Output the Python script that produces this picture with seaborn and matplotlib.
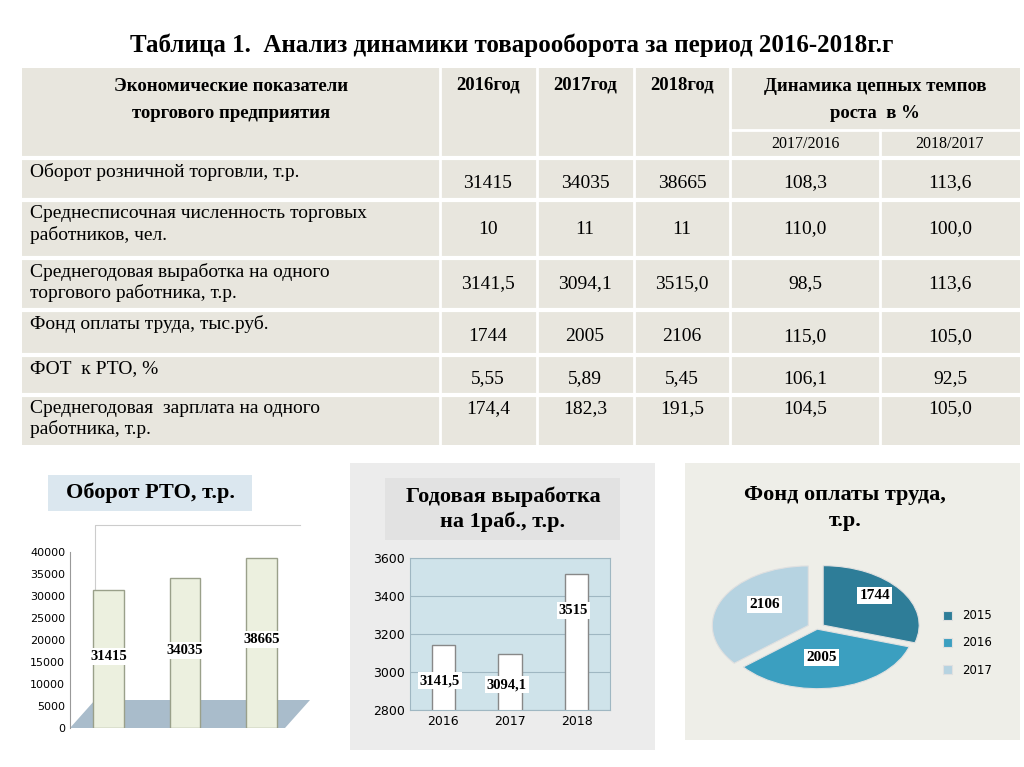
import matplotlib
matplotlib.use("Agg")
import matplotlib.pyplot as plt
import seaborn as sns
import pandas as pd
from matplotlib.patches import Rectangle, Polygon

# ---- data ----
title = "Таблица 1.  Анализ динамики товарооборота за период 2016-2018г.г"
row_labels = ["Оборот розничной торговли, т.р.",
              "Среднесписочная численность торговых\nработников, чел.",
              "Среднегодовая выработка на одного\nторгового работника, т.р.",
              "Фонд оплаты труда, тыс.руб.",
              "ФОТ  к РТО, %",
              "Среднегодовая  зарплата на одного\nработника, т.р."]
col_2016 = ["31415", "10", "3141,5", "1744", "5,55", "174,4"]
col_2017 = ["34035", "11", "3094,1", "2005", "5,89", "182,3"]
col_2018 = ["38665", "11", "3515,0", "2106", "5,45", "191,5"]
col_d1 = ["108,3", "110,0", "98,5", "115,0", "106,1", "104,5"]
col_d2 = ["113,6", "100,0", "113,6", "105,0", "92,5", "105,0"]

rto_years = ["2016", "2017", "2018"]
rto_values = [31415, 34035, 38665]
vyr_years = ["2016", "2017", "2018"]
vyr_values = [3141.5, 3094.1, 3515]
vyr_labels = ["3141,5", "3094,1", "3515"]
fot_years = ["2015", "2016", "2017"]
fot_values = [1744, 2005, 2106]

SERIF = "Liberation Serif"
W, H = 1024, 767
fig = plt.figure(figsize=(W / 100, H / 100), dpi=100)
fig.patch.set_facecolor("white")

def ax_px(x, y, w, h, **kw):
    return fig.add_axes([x / W, 1 - (y + h) / H, w / W, h / H], **kw)

ov = ax_px(0, 0, W, H)
ov.set_xlim(0, W); ov.set_ylim(H, 0); ov.axis("off")

ov.text(512, 45, title, ha="center", va="center", fontsize=18, fontweight="bold", family=SERIF)

# ---- table ----
bg = "#e8e6de"
xs = [22, 440, 537, 634, 730, 880, 1020]
ys = [68, 158, 200, 258, 310, 355, 395, 445]
ov.add_patch(Rectangle((22, 68), 998, 377, facecolor=bg, edgecolor="none"))
for x in xs[1:5]:
    ov.plot([x, x], [68, 445], color="white", lw=2)
ov.plot([880, 880], [130, 445], color="white", lw=2)
ov.plot([730, 1020], [130, 130], color="white", lw=2)
for y in ys[1:-1]:
    ov.plot([22, 1020], [y, y], color="white", lw=3)
hk = dict(fontsize=13.5, fontweight="bold", family=SERIF, ha="center", va="center")
ov.text(231, 100, "Экономические показатели\nторгового предприятия", linespacing=1.7, **hk)
for x, t in zip([488, 585, 682], ["2016год", "2017год", "2018год"]):
    ov.text(x, 85, t, **hk)
ov.text(875, 100, "Динамика цепных темпов\nроста  в %", linespacing=1.7, **hk)
ov.text(805, 144, "2017/2016", fontsize=11.5, family=SERIF, ha="center", va="center")
ov.text(950, 144, "2018/2017", fontsize=11.5, family=SERIF, ha="center", va="center")
for i in range(6):
    y0, y1 = ys[i + 1], ys[i + 2]
    ov.text(30, y0 + 5, row_labels[i], fontsize=14, family=SERIF, ha="left", va="top", linespacing=1.25)
    yc = (y0 + y1) / 2 + (4 if i in (0, 3, 4) else 0)
    if i == 5:
        yc = y0 + 14
    for x, col in zip([488, 585, 682, 805, 950], [col_2016, col_2017, col_2018, col_d1, col_d2]):
        ov.text(x, yc, col[i], fontsize=14, family=SERIF, ha="center", va="center")

# ---- left chart: Оборот РТО ----
ov.add_patch(Rectangle((48, 475), 204, 36, facecolor="#dbe7ef", edgecolor="none"))
ov.text(150, 493, "Оборот РТО, т.р.", fontsize=16, fontweight="bold", family=SERIF, ha="center", va="center")
ov.add_patch(Polygon([[70, 728], [285, 728], [310, 700], [95, 700]], closed=True,
                     facecolor="#a9bccb", edgecolor="none"))
ov.plot([95, 95, 300], [700, 525, 525], color="#cccccc", lw=0.8)
ax1 = ax_px(70, 552, 230, 176)
df1 = pd.DataFrame({"year": rto_years, "value": rto_values})
sns.barplot(data=df1, x="year", y="value", ax=ax1, color="#eef3dc", edgecolor="#9aa08a", width=0.4)
ax1.set_ylim(0, 40000)
ax1.set_yticks(range(0, 40001, 5000))
ax1.tick_params(axis="y", labelsize=8, length=0)
ax1.set_xticks([]); ax1.set_xlabel(""); ax1.set_ylabel("")
ax1.patch.set_alpha(0)
for s in ["top", "right", "bottom"]:
    ax1.spines[s].set_visible(False)
ax1.spines["left"].set_color("#999999")
for i, v in enumerate(rto_values):
    ax1.text(i, v * 0.52, str(v), ha="center", va="center", fontsize=10.5, fontweight="bold",
             family=SERIF, bbox=dict(facecolor="white", edgecolor="none", pad=1.5))

# ---- middle chart ----
ov.add_patch(Rectangle((350, 463), 305, 287, facecolor="#ececec", edgecolor="none"))
ov.add_patch(Rectangle((385, 478), 235, 62, facecolor="#e2e2e2", edgecolor="none"))
ov.text(503, 509, "Годовая выработка\nна 1раб., т.р.", fontsize=16, fontweight="bold",
        family=SERIF, ha="center", va="center", linespacing=1.3)
ax2 = ax_px(410, 558, 200, 152)
ax2.set_facecolor("#cfe3ea")
df2 = pd.DataFrame({"year": vyr_years, "value": vyr_values})
sns.barplot(data=df2, x="year", y="value", ax=ax2, color="white", edgecolor="#888888", width=0.35)
ax2.set_ylim(2800, 3600)
ax2.set_yticks(range(2800, 3601, 200))
ax2.yaxis.grid(True, color="#9fb7c2", lw=0.8)
ax2.set_axisbelow(True)
ax2.tick_params(labelsize=9, length=0)
ax2.set_xlabel(""); ax2.set_ylabel("")
for s in ax2.spines.values():
    s.set_color("#9fb7c2")
for i, (v, t) in enumerate(zip(vyr_values, vyr_labels)):
    ax2.text(i - 0.05, 2800 + (v - 2800) * 0.45 + (200 if i == 2 else 0), t, ha="center", va="center",
             fontsize=10.5, fontweight="bold", family=SERIF,
             bbox=dict(facecolor="white", edgecolor="none", pad=1.5))

# ---- right chart ----
ov.add_patch(Rectangle((685, 463), 335, 277, facecolor="#eeeee8", edgecolor="none"))
ov.text(845, 508, "Фонд оплаты труда,\nт.р.", fontsize=16, fontweight="bold",
        family=SERIF, ha="center", va="center", linespacing=1.4)
ax3 = ax_px(697, 548, 240, 160)
colors = ["#2e7d98", "#3b9fc0", "#b6d3e1"]
wedges, _ = ax3.pie(fot_values, colors=colors, startangle=90, counterclock=False,
                    explode=[0.08, 0.02, 0.1], wedgeprops=dict(edgecolor="#e0e0e0", lw=0.8))
ax3.set_aspect(0.62)
for w_, v, (dx, dy) in zip(wedges, fot_values, [(0.6, 0.55), (0.05, -0.5), (-0.55, 0.4)]):
    ax3.text(dx, dy, str(v), ha="center", va="center", fontsize=11, fontweight="bold", family=SERIF,
             bbox=dict(facecolor="white", edgecolor="none", pad=1.5))
ax3.legend(wedges, fot_years, loc="center left", bbox_to_anchor=(0.98, 0.4), frameon=False,
           fontsize=8.5, handlelength=0.8, handleheight=0.8, labelspacing=1.2)

fig.savefig("out.png", dpi=100)
